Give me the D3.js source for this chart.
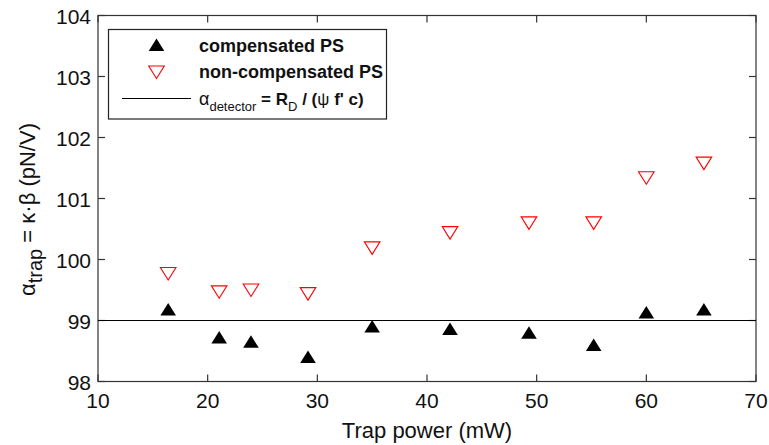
<!DOCTYPE html>
<html>
<head>
<meta charset="utf-8">
<script src="https://cdn.jsdelivr.net/npm/d3@7"></script>
<style>
  body { margin: 0; background: #fff; }
  text { font-family: "Liberation Sans", Arial, sans-serif; }
</style>
</head>
<body>
<div id="chart"></div>
<script>
// trap power (mW)
const power = [16.4, 21.05, 23.95, 29.15, 35.0, 42.1, 49.3, 55.2, 60.0, 65.25];
const compensated = [99.18, 98.72, 98.65, 98.40, 98.90, 98.86, 98.80, 98.60, 99.13, 99.18];
const nonCompensated = [99.77, 99.47, 99.50, 99.44, 100.19, 100.44, 100.60, 100.60, 101.34, 101.58];
const detectorLevel = 99;
const xTicks = [10, 20, 30, 40, 50, 60, 70];
const yTicks = [98, 99, 100, 101, 102, 103, 104];

const width = 769, height = 445;
const margin = {top: 15.5, right: 13, bottom: 63.5, left: 98};

const svg = d3.select("#chart").append("svg")
    .attr("width", width)
    .attr("height", height);

const x = d3.scaleLinear().domain([10, 70]).range([margin.left, width - margin.right]);
const y = d3.scaleLinear().domain([98, 104]).range([height - margin.bottom, margin.top]);

const tick = 7;
const axisColor = "#333";

// frame
svg.append("rect")
    .attr("x", x(10)).attr("y", y(104))
    .attr("width", x(70) - x(10)).attr("height", y(98) - y(104))
    .attr("fill", "none").attr("stroke", axisColor).attr("stroke-width", 1.2);

// inward ticks on all sides
const g = svg.append("g").attr("stroke", axisColor).attr("stroke-width", 1.2);
xTicks.forEach(t => {
  g.append("line").attr("x1", x(t)).attr("x2", x(t)).attr("y1", y(98)).attr("y2", y(98) - tick);
  g.append("line").attr("x1", x(t)).attr("x2", x(t)).attr("y1", y(104)).attr("y2", y(104) + tick);
});
yTicks.forEach(t => {
  g.append("line").attr("y1", y(t)).attr("y2", y(t)).attr("x1", x(10)).attr("x2", x(10) + tick);
  g.append("line").attr("y1", y(t)).attr("y2", y(t)).attr("x1", x(70)).attr("x2", x(70) - tick);
});

svg.append("g").selectAll("text").data(xTicks).join("text")
    .attr("x", d => x(d)).attr("y", y(98) + 26.5)
    .attr("text-anchor", "middle")
    .style("font-size", "21px").attr("fill", "#111")
    .text(d => d);

svg.append("g").selectAll("text").data(yTicks).join("text")
    .attr("x", x(10) - 7).attr("y", d => y(d) + 8)
    .attr("text-anchor", "end")
    .style("font-size", "21px").attr("fill", "#111")
    .text(d => d);

// axis labels
svg.append("text")
    .attr("x", (x(10) + x(70)) / 2).attr("y", 438)
    .attr("text-anchor", "middle")
    .style("font-size", "22px").attr("fill", "#111")
    .text("Trap power (mW)");

const yl = svg.append("text")
    .attr("transform", "translate(35,209.5) rotate(-90)")
    .attr("text-anchor", "middle")
    .style("font-size", "22px").attr("fill", "#111");
yl.append("tspan").text("α");
yl.append("tspan").attr("dy", 7).style("font-size", "20px").text("trap");
yl.append("tspan").attr("dy", -7).text(" = κ·β (pN/V)");

// detector line
svg.append("line")
    .attr("x1", x(10)).attr("x2", x(70))
    .attr("y1", y(detectorLevel)).attr("y2", y(detectorLevel))
    .attr("stroke", "#000").attr("stroke-width", 1.2);

const up = (cx, cy) => `M${cx},${cy - 6.5}L${cx + 7.8},${cy + 6}L${cx - 7.8},${cy + 6}Z`;
const down = (cx, cy) => `M${cx - 7.8},${cy - 6}L${cx + 7.8},${cy - 6}L${cx},${cy + 6.5}Z`;

svg.append("g").selectAll("path").data(power).join("path")
    .attr("d", (d, i) => down(x(d), y(nonCompensated[i])))
    .attr("fill", "#fff").attr("stroke", "#f00").attr("stroke-width", 1.1);

svg.append("g").selectAll("path").data(power).join("path")
    .attr("d", (d, i) => up(x(d), y(compensated[i])))
    .attr("fill", "#000");

// legend
const lg = svg.append("g");
lg.append("rect")
    .attr("x", 108.5).attr("y", 29.5).attr("width", 278).attr("height", 89.5)
    .attr("fill", "#fff").attr("stroke", "#222").attr("stroke-width", 1.2);
lg.append("path").attr("d", up(156.5, 45)).attr("fill", "#000");
lg.append("path").attr("d", down(156.5, 72)).attr("fill", "#fff").attr("stroke", "#f00").attr("stroke-width", 1.1);
lg.append("line").attr("x1", 122).attr("x2", 191).attr("y1", 98.5).attr("y2", 98.5)
    .attr("stroke", "#000").attr("stroke-width", 1.2);

const legendText = ["compensated PS", "non-compensated PS"];
lg.selectAll("text.lt").data(legendText).join("text")
    .attr("class", "lt")
    .attr("x", 199).attr("y", (d, i) => 51.5 + i * 26.7)
    .style("font-size", "18px").style("font-weight", "bold").attr("fill", "#111")
    .text(d => d);

const t3 = lg.append("text").attr("x", 199).attr("y", 104.5)
    .style("font-size", "17px").style("font-weight", "bold").attr("fill", "#111");
t3.append("tspan").style("font-weight", "normal").style("font-size", "18px").text("α");
t3.append("tspan").attr("dy", 6).style("font-size", "13px").style("font-weight", "normal").text("detector");
t3.append("tspan").attr("dy", -6).text(" = R");
t3.append("tspan").attr("dy", 6).style("font-size", "13px").style("font-weight", "normal").text("D");
t3.append("tspan").attr("dy", -6).text(" / (");
t3.append("tspan").style("font-weight", "normal").text("ψ");
t3.append("tspan").text(" f' c)");
</script>
</body>
</html>
